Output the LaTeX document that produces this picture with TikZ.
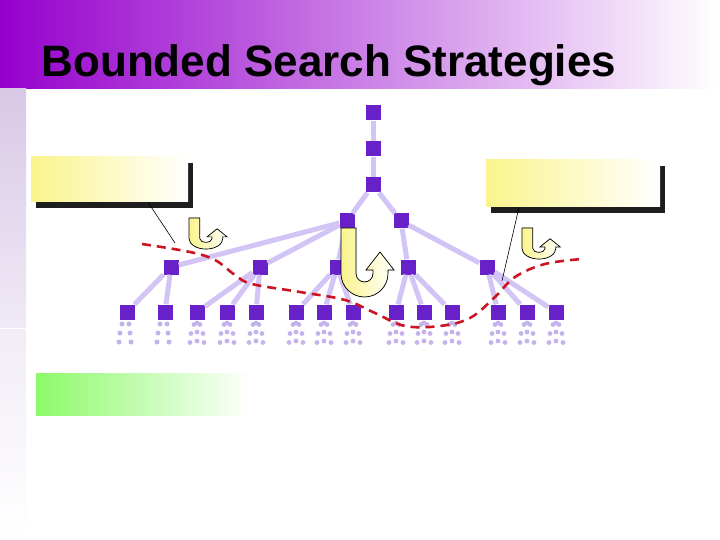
\documentclass[tikz,border=0pt]{standalone}
\usepackage{fontspec}
\setmainfont{Liberation Sans}
\usetikzlibrary{shadows}

\definecolor{bandpurple}{RGB}{150,0,205}
\definecolor{bandmid}{RGB}{202,170,226}
\definecolor{striplav}{RGB}{216,200,230}
\definecolor{nodepurple}{RGB}{104,32,200}
\definecolor{edgelav}{RGB}{210,196,244}
\definecolor{dotlav}{RGB}{196,178,236}
\definecolor{cutred}{RGB}{204,20,34}
\definecolor{boxyellow}{RGB}{250,244,140}
\definecolor{boxgreen}{RGB}{140,250,105}
\definecolor{shadowgrey}{RGB}{30,30,30}

\tikzset{
  uturn/.pic={
    \filldraw[turnfill] (0,0) -- (15,0) -- (15,-45.5) arc (180:360:8.5pt) -- (32,-42) -- (25,-42)
      -- (39,-24) -- (53,-42) -- (47,-42) -- (47,-45.5) arc (0:-180:23.5pt) -- cycle;
  }
}

\begin{document}
\begin{tikzpicture}[x=1pt, y=1pt,
  sq/.style={fill=nodepurple, minimum size=15pt, inner sep=0pt},
  edge/.style={edgelav, line width=5pt},
  cut/.style={cutred, line width=2.6pt, dash pattern=on 9pt off 6pt},
  turnfill/.style={left color=boxyellow, right color=white, draw=black, line width=0.7pt},
  ybox/.style={left color=boxyellow, right color=white,
    drop shadow={fill=shadowgrey, opacity=1, shadow xshift=5pt, shadow yshift=-6pt}},
  greenbox/.style={left color=boxgreen, right color=white},
  callout/.style={black, line width=0.6pt},
  title/.style={font=\fontsize{44}{50}\selectfont\bfseries}]
\useasboundingbox (0,0) rectangle (720,-540);
\fill[left color=bandpurple, middle color=bandmid, right color=white] (0,0) rectangle (720,-89);
\fill[top color=striplav, bottom color=striplav!40] (0,-89) rectangle (26,-327);
\fill[top color=striplav!35, bottom color=white] (0,-329) rectangle (26,-540);
\node[title, anchor=base west] (title) at (38,-77) {Bounded Search Strategies};

\node[sq] (r0) at (373,-113) {};
\node[sq] (r1) at (373,-149) {};
\node[sq] (r2) at (373,-185) {};
\node[sq] (a1) at (347,-221) {};
\node[sq] (a2) at (401,-221) {};
\node[sq] (b1) at (171,-267) {};
\node[sq] (b2) at (260,-267) {};
\node[sq] (b3) at (337,-267) {};
\node[sq] (b4) at (408,-267) {};
\node[sq] (b5) at (487,-267) {};
\foreach \x [count=\i] in {127,165,197,227,256,296,324,353,396,424,452,498,527,556}
  \node[sq] (c\i) at (\x,-312) {};
\foreach \p/\c in {r0/r1,r1/r2,r2/a1,r2/a2,a1/b1,a1/b2,a1/b3,a2/b4,a2/b5,
    b1/c1,b1/c2,b2/c3,b2/c4,b2/c5,b3/c6,b3/c7,b3/c8,b4/c9,b4/c10,b4/c11,b5/c12,b5/c13,b5/c14}
  \draw[edge] (\p) -- (\c);

\foreach \i in {1,2}
  \foreach \dx/\dy in {-5/12,2/12,-7/21,3/21,-8/30,4/30}
    \fill[dotlav] ([shift={(\dx,-\dy)}]c\i.center) circle (2.5pt);
\foreach \i in {3,...,14}
  \foreach \dx/\dy in {-3/12.5,0/11,3/12.5,-6/21.5,0/20,6/21.5,-7/30.5,0/29,7/30.5}
    \fill[dotlav] ([shift={(\dx,-\dy)}]c\i.center) circle (2.4pt);

\draw[cut] plot[smooth, tension=0.6] coordinates {(142,-244) (190,-252) (215,-260) (235,-275)
  (252,-284) (300,-292) (345,-300) (375,-313) (405,-326) (440,-326) (470,-318) (495,-297)
  (515,-277) (545,-264) (582,-259)};

\pic at (341,-228) {uturn};
\pic[xscale=0.72, yscale=0.45] at (189,-218) {uturn};
\pic[xscale=0.72, yscale=0.45] at (522,-228) {uturn};

\coordinate (lend) at (175,-243);
\coordinate (rend) at (502,-281);
\node[ybox, minimum width=157pt, minimum height=45pt] (lbox) at (109.5,-179.5) {};
\node[ybox, minimum width=174pt, minimum height=47pt] (rbox) at (573,-183.5) {};
\draw[callout] ([xshift=38.5pt]lbox.south) -- (lend);
\draw[callout] ([xshift=-54pt]rbox.south) -- (rend);
\node[greenbox, minimum width=214pt, minimum height=42pt] (gbox) at (143,-394) {};
\end{tikzpicture}
\end{document}
